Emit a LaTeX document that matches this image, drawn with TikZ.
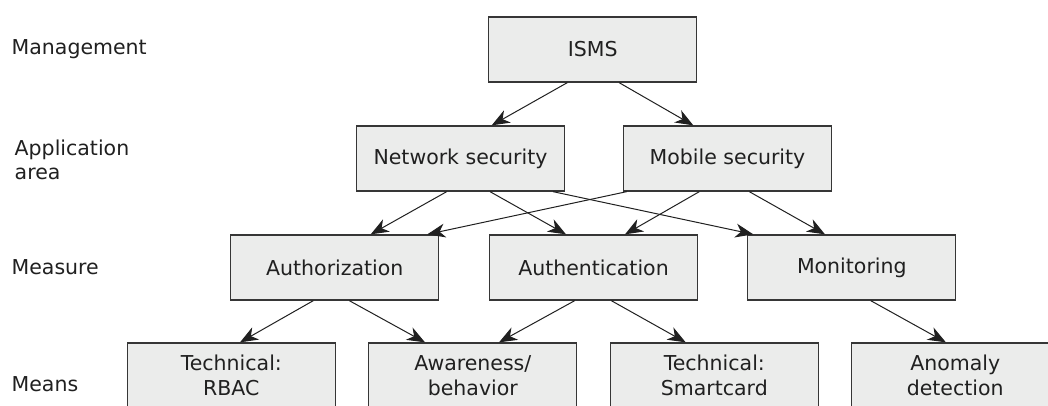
\documentclass[tikz,border=0pt]{standalone}
\usepackage{fontspec}
\setmainfont{DejaVu Sans}
\usetikzlibrary{arrows.meta}
\definecolor{boxfill}{HTML}{EBECEB}
\definecolor{boxline}{HTML}{363636}
\definecolor{ink}{HTML}{202020}
\begin{document}
\begin{tikzpicture}[x=1pt,y=1pt,
  every node/.style={font=\fontsize{20.5}{24.5}\selectfont, text=ink},
  box/.style={draw=boxline, fill=boxfill, line width=1.3pt,
    minimum width=208pt, minimum height=65pt, inner sep=0pt, align=center},
  level/.style={inner sep=0pt, anchor=base west, align=left},
  link/.style={draw=ink, line width=1pt, -{Stealth[length=18pt,width=14pt,inset=5.5pt]}}]
\useasboundingbox (0,0) rectangle (1048,-406);

% layer labels
\node[level] (lmgmt) at (11.5,-55) {Management};
\node[inner sep=0pt, anchor=west, align=left] (lapp) at (14.5,-160) {Application\\area};
\node[level] (lmeas) at (11.5,-274.7) {Measure};
\node[level] (lmeans) at (11.5,-391.3) {Means};

% boxes
\node[box] (isms)  at (592.8,-49.5)  {ISMS};
\node[box] (net)   at (460.5,-158.5) {Network security};
\node[box] (mob)   at (727.5,-158.5) {Mobile security};
\node[box] (authz) at (334.8,-267.5) {Authorization};
\node[box] (authn) at (593.5,-267.5) {Authentication};
\node[box] (mon)   at (851.8,-267.5) {Monitoring};
\node[box] (rbac)  at (231.3,-375.5) {Technical:\\RBAC};
\node[box] (aware) at (472.8,-375.5) {Awareness/\\behavior};
\node[box] (smart) at (714.3,-375.5) {Technical:\\Smartcard};
\node[box] (anom)  at (955.2,-375.5) {Anomaly\\detection};

% connectors
\draw[link] ([xshift=-25.5pt]isms.south) -- ([xshift=31.2pt]net.north);
\draw[link] ([xshift=26.3pt]isms.south) -- ([xshift=-34.2pt]mob.north);
\draw[link] ([xshift=-13.8pt]net.south) -- ([xshift=35.9pt]authz.north);
\draw[link] ([xshift=29.5pt]net.south) -- ([xshift=-27.5pt]authn.north);
\draw[link] ([xshift=92.5pt]net.south) -- ([xshift=-98.5pt]mon.north);
\draw[link] ([xshift=-100.8pt]mob.south) -- ([xshift=92.5pt]authz.north);
\draw[link] ([xshift=-28.2pt]mob.south) -- ([xshift=31.5pt]authn.north);
\draw[link] ([xshift=21.8pt]mob.south) -- ([xshift=-26.8pt]mon.north);
\draw[link] ([xshift=-21.5pt]authz.south) -- ([xshift=8.7pt]rbac.north);
\draw[link] ([xshift=14.5pt]authz.south) -- ([xshift=-47.8pt]aware.north);
\draw[link] ([xshift=-18.8pt]authn.south) -- ([xshift=26.2pt]aware.north);
\draw[link] ([xshift=17.8pt]authn.south) -- ([xshift=-28.6pt]smart.north);
\draw[link] ([xshift=18.9pt]mon.south) -- ([xshift=-9.3pt]anom.north);
\end{tikzpicture}
\end{document}
